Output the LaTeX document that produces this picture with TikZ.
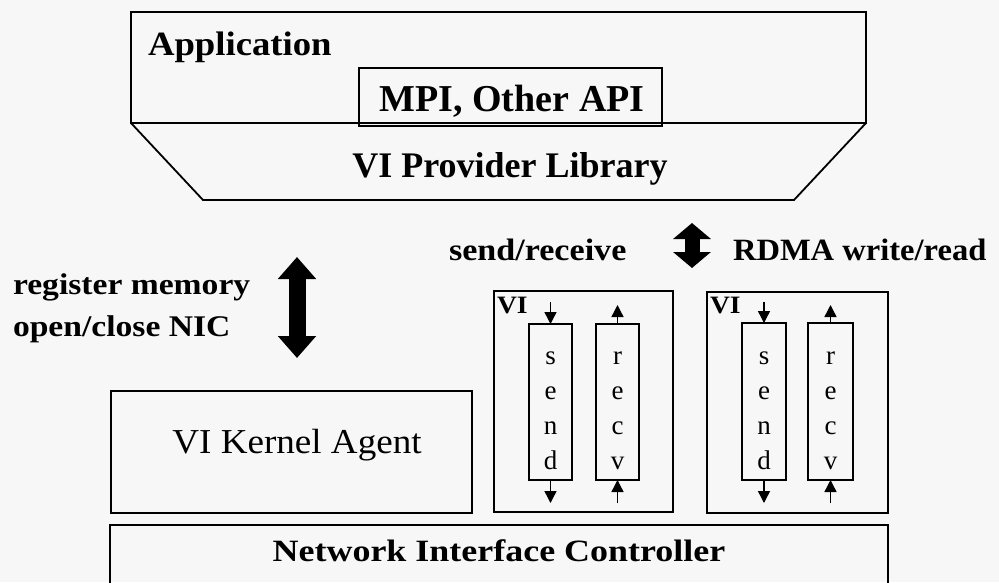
\documentclass[tikz,border=0pt]{standalone}
\usepackage{fontspec}
\setmainfont{Liberation Serif}
\usetikzlibrary{arrows.meta}
\definecolor{paper}{HTML}{F7F7F7}
% horizontally stretched text, as the bitmap fonts of the figure are wide
\newcommand\stretchtext[2]{\scalebox{#1}[1]{#2}}
\newcommand\fsz[1]{\fontsize{#1}{#1}\selectfont}

\begin{document}
\begin{tikzpicture}[x=1pt,y=-1pt,
  box/.style={draw=black,line width=1.8pt,inner sep=0pt,outer sep=0pt},
  lbl/.style={inner sep=0pt,outer sep=0pt,text=black},
  queuechar/.style={lbl,anchor=base,font=\fsz{27}},
  smallarrow/.style={line width=1.4pt,-{Triangle[width=12pt,length=12pt]}},
  bigarrow/.style={line width=17pt,
    {Triangle[width=37pt,length=22pt]}-{Triangle[width=37pt,length=22pt]}},
  midarrow/.style={line width=15pt,
    {Triangle[width=37pt,length=16pt]}-{Triangle[width=37pt,length=16pt]}},
]
\fill[paper] (0,0) rectangle (999,582);
\clip (0,0) rectangle (999,582);

% ---- user level: application, API and provider library
\node[box,minimum width=735pt,minimum height=111pt] (app) at (498.5,67.5) {};
\coordinate (vpl-bl) at (203,200);
\coordinate (vpl-br) at (794,200);
\draw[line width=1.8pt,line join=miter]
  (app.south west) -- (vpl-bl) -- (vpl-br) -- (app.south east);
\node[box,minimum width=303pt,minimum height=58pt] (mpi) at (510.5,97) {};

\node[lbl,anchor=base west,font=\fsz{34}\bfseries] (apptext) at (148,55)
  {\stretchtext{1.08}{Application}};
\node[lbl,anchor=base,font=\fsz{38}\bfseries] (mpitext) at (512,111)
  {MPI, Other API};
\node[lbl,anchor=base,font=\fsz{36}\bfseries] (vpltext) at (510,177)
  {VI Provider Library};

% ---- kernel path
\node[lbl,anchor=base west,font=\fsz{30}\bfseries] (regtext) at (13,294)
  {\stretchtext{1.12}{register memory}};
\node[lbl,anchor=base west,font=\fsz{30}\bfseries] (opentext) at (13,336)
  {\stretchtext{1.12}{open/close NIC}};
\coordinate (ka-up) at (297,257);
\coordinate (ka-dn) at (297,358);
\draw[bigarrow] (ka-up) -- (ka-dn);

\node[box,minimum width=361pt,minimum height=122pt] (kagent) at (291.5,452) {};
\node[lbl,anchor=base,font=\fsz{35}] (katext) at (297,453)
  {\stretchtext{1.06}{VI Kernel Agent}};

% ---- user-level data path
\node[lbl,anchor=base west,font=\fsz{31}\bfseries] (srtext) at (449,260)
  {\stretchtext{1.1}{send/receive}};
\node[lbl,anchor=base west,font=\fsz{31}\bfseries] (rdmatext) at (733,260)
  {\stretchtext{1.05}{RDMA write/read}};
\coordinate (mid-up) at (692,223);
\coordinate (mid-dn) at (692,268);
\draw[midarrow] (mid-up) -- (mid-dn);

% ---- virtual interfaces
\node[box,minimum width=179pt,minimum height=221pt] (vi1) at (583.5,401.5) {};
\node[box,minimum width=181pt,minimum height=221pt] (vi2) at (797.5,402.5) {};
\node[lbl,anchor=base west,font=\fsz{25}\bfseries] (vi1lbl) at (497,313)
  {\stretchtext{1.1}{VI}};
\node[lbl,anchor=base west,font=\fsz{25}\bfseries] (vi2lbl) at (710,313)
  {\stretchtext{1.1}{VI}};

\node[box,minimum width=43pt,minimum height=156pt] (send1) at (550.5,402) {};
\node[box,minimum width=43pt,minimum height=156pt] (recv1) at (617.5,402) {};
\node[box,minimum width=44pt,minimum height=157pt] (send2) at (764,401.5) {};
\node[box,minimum width=45pt,minimum height=157pt] (recv2) at (830.5,401.5) {};

% queue names written downwards, one letter per line
\foreach \q/\x in {send1/550.5, send2/764}{
  \foreach \ch [count=\i] in {s,e,n,d}{
    \node[queuechar] (\q-\i) at (\x,329+35*\i) {\ch};
  }
}
\foreach \q/\x in {recv1/617.5, recv2/830.5}{
  \foreach \ch [count=\i] in {r,e,c,v}{
    \node[queuechar] (\q-\i) at (\x,329+35*\i) {\ch};
  }
}

% work queue arrows: posted into send queues, completed out of receive queues
\foreach \q/\x in {send1/550.5, send2/764}{
  \coordinate (\q-in) at (\x,302);
  \coordinate (\q-out) at (\x,503);
  \draw[smallarrow] (\q-in) -- (\q.north);
  \draw[smallarrow] (\q.south) -- (\q-out);
}
\foreach \q/\x in {recv1/617.5, recv2/830.5}{
  \coordinate (\q-in) at (\x,503);
  \coordinate (\q-out) at (\x,305);
  \draw[smallarrow] (\q-in) -- (\q.south);
  \draw[smallarrow] (\q.north) -- (\q-out);
}

% ---- network interface controller
\node[box,minimum width=778pt,minimum height=75pt] (nic) at (499,562.5) {};
\node[lbl,anchor=base,font=\fsz{31}\bfseries] (nictext) at (499,561)
  {\stretchtext{1.16}{Network Interface Controller}};
\end{tikzpicture}
\end{document}
